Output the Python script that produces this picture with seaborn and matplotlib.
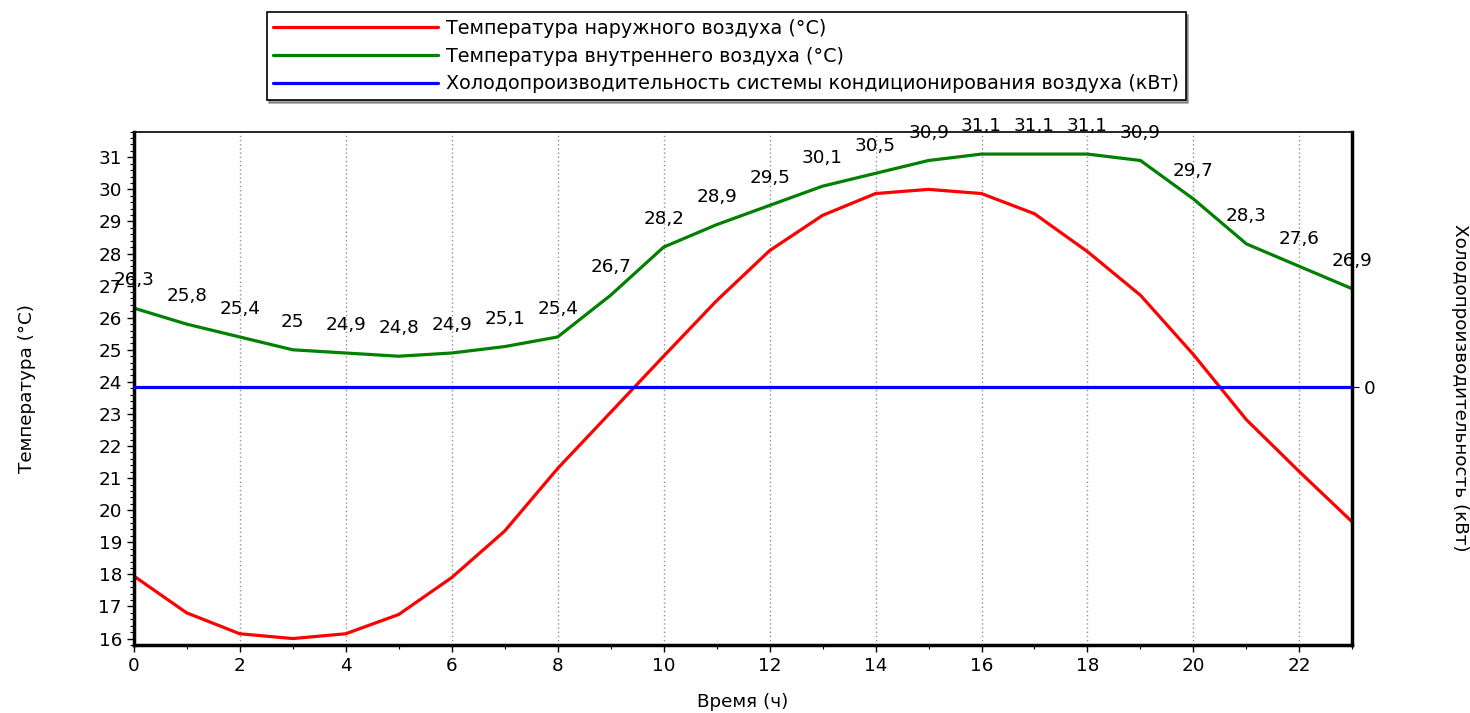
import numpy as np
import pandas as pd
import matplotlib
matplotlib.use('Agg')
import matplotlib.pyplot as plt
from matplotlib.ticker import MultipleLocator, FixedLocator
import seaborn as sns

# Данные (часы 0..23)
hours = list(range(24))
t_out = [17.95, 16.8, 16.15, 16.0, 16.15, 16.75, 17.9, 19.35, 21.3, 23.05, 24.8, 26.53,
         28.09, 29.19, 29.87, 30.0, 29.87, 29.24, 28.06, 26.7, 24.85, 22.82, 21.2, 19.63]
t_in = [26.3, 25.8, 25.4, 25.0, 24.9, 24.8, 24.9, 25.1, 25.4, 26.7, 28.2, 28.9,
        29.5, 30.1, 30.5, 30.9, 31.1, 31.1, 31.1, 30.9, 29.7, 28.3, 27.6, 26.9]
cooling = [0] * 24

lbl_out = 'Температура наружного воздуха (°С)'
lbl_in = 'Температура внутреннего воздуха (°С)'
lbl_cool = 'Холодопроизводительность системы кондиционирования воздуха (кВт)'

df = pd.DataFrame({'hour': hours, 't_out': t_out, 't_in': t_in, 'cooling': cooling})

sns.set_style('ticks')
plt.rcParams['font.family'] = ['DejaVu Sans']
plt.rcParams['text.color'] = 'black'
plt.rcParams['xtick.color'] = 'black'
plt.rcParams['ytick.color'] = 'black'
plt.rcParams['axes.labelcolor'] = 'black'
fs = 13.2

fig = plt.figure(figsize=(14.7, 7.13), dpi=100)
ax = fig.add_axes([0.091, 0.0954, 0.829, 0.72])
ax2 = ax.twinx()

y_lo, y_hi = 15.8, 31.8
ax.set_ylim(y_lo, y_hi)
ax.set_xlim(0, 23)
# правая ось: 0 на уровне ~23.84 левой шкалы
frac = (23.84 - y_lo) / (y_hi - y_lo)
ax2.set_ylim(-frac, 1 - frac)

sns.lineplot(data=df, x='hour', y='t_out', ax=ax, color='#ff0000', lw=2.3, label=lbl_out, legend=False)
sns.lineplot(data=df, x='hour', y='t_in', ax=ax, color='#008000', lw=2.3, label=lbl_in, legend=False)
sns.lineplot(data=df, x='hour', y='cooling', ax=ax2, color='#0000ff', lw=2.3, label=lbl_cool, legend=False)

# подписи значений
for h, v in zip(hours, t_in):
    s = ('%g' % v).replace('.', ',')
    ax.annotate(s, (h, v), xytext=(0, 20), textcoords='offset points',
                ha='center', va='center', fontsize=fs, color='black',
                annotation_clip=False, zorder=5)

# оси
ax.xaxis.set_major_locator(MultipleLocator(2))
ax.xaxis.set_minor_locator(MultipleLocator(1))
ax.yaxis.set_major_locator(MultipleLocator(1))
ax.yaxis.set_minor_locator(MultipleLocator(0.2))
ax.tick_params(axis='both', which='major', labelsize=fs, length=5, width=1, direction='out')
ax.tick_params(axis='both', which='minor', length=3, width=0.8, direction='out')
ax.grid(axis='x', which='major', linestyle=(0, (1, 2)), color='#909090', lw=1)

ax2.yaxis.set_major_locator(FixedLocator([0]))
ax2.tick_params(axis='y', labelsize=fs, length=5, direction='out')
ax2.set_xlim(0, 23)

for side in ['left', 'bottom', 'right']:
    ax.spines[side].set_linewidth(2.5)
ax.spines['top'].set_linewidth(1.2)
for sp in ax.spines.values():
    sp.set_color('black')
    sp.set_visible(True)
for sp in ax2.spines.values():
    sp.set_visible(False)

ax.set_xlabel('Время (ч)', fontsize=fs)
ax.xaxis.set_label_coords(0.5, -0.093)
ax.set_ylabel('Температура (°С)', fontsize=fs)
ax.yaxis.set_label_coords(-0.08, 0.5)
ax2.set_ylabel('Холодопроизводительность (кВт)', fontsize=fs, rotation=270, va='center')
ax2.yaxis.set_label_coords(1.088, 0.5)

handles = ax.get_lines()[:2] + ax2.get_lines()[:1]
leg = fig.legend(handles, [lbl_out, lbl_in, lbl_cool], loc='upper center',
                 bbox_to_anchor=(0.494, 0.996), frameon=True, fancybox=False,
                 shadow=True, edgecolor='black', fontsize=13.8, handlelength=8.6,
                 labelspacing=0.45, handletextpad=0.4, borderpad=0.35)
leg.get_frame().set_linewidth(1.2)

fig.savefig('out.png', dpi=100)
